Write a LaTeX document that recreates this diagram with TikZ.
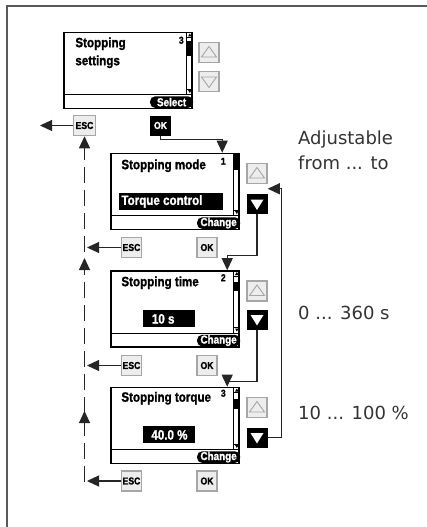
\documentclass[tikz,border=0pt]{standalone}
\usepackage{fontspec}
\setmainfont{Liberation Sans}
\newfontfamily\cond{Liberation Sans}[FakeStretch=0.86, BoldFeatures={FakeBold=1.3}]
\newfontfamily\notefont{DejaVu Sans}
\usetikzlibrary{calc,arrows.meta}
\tikzset{
  conn/.style={draw=black!85, line width=1.1pt},
  arr/.style={-{Triangle[width=11pt,length=12pt]}},
  screen/.style={draw, line width=1.6pt, minimum width=128pt, minimum height=76pt, inner sep=0pt, fill=white},
  lbtn/.style={draw=black!35, fill=black!7, line width=1.5pt, minimum width=20pt, minimum height=20pt, inner sep=0pt, font=\cond\bfseries\fontsize{10}{10}\selectfont},
  dbtn/.style={fill=black, minimum width=21pt, minimum height=20pt, inner sep=0pt, text=white, font=\cond\bfseries\fontsize{10}{10}\selectfont},
  pill/.style={fill=black, rounded corners=5pt, text=white, inner xsep=2pt, inner ysep=0pt, minimum height=11.5pt, minimum width=43pt, font=\cond\bfseries\fontsize{11.5}{11.5}\selectfont},
  bar/.style={fill=black, text=white, font=\cond\bfseries\fontsize{13.5}{13.5}\selectfont, inner ysep=0pt, minimum height=17pt, anchor=north west},
  title/.style={font=\cond\bfseries\fontsize{13.5}{15}\selectfont, inner sep=0pt, anchor=base west},
  idx/.style={font=\cond\bfseries\fontsize{10}{10}\selectfont, inner sep=0pt, anchor=base west},
  note/.style={font=\notefont\fontsize{18}{25}\selectfont, text=black!80, inner sep=0pt, anchor=base west, align=left},
  dashline/.style={draw=black!85, line width=1.1pt, dash pattern=on 16pt off 7pt},
  frame/.style={draw=black!65, line width=2pt},
  upkey/.pic={\node[lbtn] (-b) {};
    \draw[black!35, line width=0.9pt] (-7.5,4.5) -- (7.5,4.5) -- (0,-6) -- cycle;},
  downkeylight/.pic={\node[lbtn] (-b) {};
    \draw[black!35, line width=0.9pt] (-7.5,-4.5) -- (7.5,-4.5) -- (0,6) -- cycle;},
  downkey/.pic={\node[dbtn] (-b) {};
    \fill[white] (-6.5,-4.5) -- (6.5,-4.5) -- (0,6) -- cycle;},
}
% #1 name, #2 centre, #3/#4 thumb offsets, #5 pill text
\newcommand\scrn[5]{%
  \node[screen] (#1) at (#2) {};
  \draw[line width=1.2pt] ($(#1.south west)+(0,-14.5)$) -- ($(#1.south east)+(0,-14.5)$);
  \draw[line width=0.9pt] ($(#1.north east)+(-6,0)$) -- ($(#1.south east)+(-6,-14.5)$);
  \fill ($(#1.north east)+(-4.8,4.8)$) -- ($(#1.north east)+(-1.2,4.8)$) -- ($(#1.north east)+(-3,1.8)$) -- cycle;
  \draw[line width=0.5pt] ($(#1.north east)+(-6,6)$) -- ($(#1.north east)+(0,6)$);
  \fill ($(#1.south east)+(-4.8,-19.3)$) -- ($(#1.south east)+(-1.2,-19.3)$) -- ($(#1.south east)+(-3,-16.3)$) -- cycle;
  \draw[line width=0.5pt] ($(#1.south east)+(-6,-20.5)$) -- ($(#1.south east)+(0,-20.5)$);
  \fill ($(#1.north east)+(-6,#3)$) rectangle ($(#1.north east)+(0,#4)$);
  \node[pill, anchor=east] (#1-p) at ($(#1.south east)+(0.5,-7.2)$) {#5};
}
\begin{document}
\begin{tikzpicture}[x=1pt,y=-1pt]
\useasboundingbox (0,0) rectangle (427,527);
\draw[frame] (7,527) -- (7,6.5) -- (427,6.5);

% screens
\scrn{s1}{128,70.5}{9}{24}{Select}
\scrn{s2}{175,191.5}{0}{17}{Change}
\scrn{s3}{175,309}{12}{21}{Change}
\scrn{s4}{175,425.5}{12}{22}{Change}

\node[title] (t1a) at ($(s1.north west)+(12,15.5)$) {Stopping};
\node[title] (t1b) at ($(s1.north west)+(12,33.5)$) {settings};
\node[idx] (i1) at ($(s1.north west)+(115.5,12)$) {3};

\node[title] (t2) at ($(s2.north west)+(11,16.5)$) {Stopping mode};
\node[idx] (i2) at ($(s2.north west)+(110.5,12)$) {1};
\node[bar, minimum width=104pt, inner xsep=2pt] (b2) at ($(s2.north west)+(9,40)$) {\makebox[100pt][l]{Torque control}};

\node[title] (t3) at ($(s3.north west)+(11,16)$) {Stopping time};
\node[idx] (i3) at ($(s3.north west)+(110.5,11)$) {2};
\node[bar, minimum width=52pt, inner xsep=8.5pt] (b3) at ($(s3.north west)+(33,40)$) {\makebox[35pt][l]{10 s}};

\node[title] (t4) at ($(s4.north west)+(11,15)$) {Stopping torque};
\node[idx] (i4) at ($(s4.north west)+(110.5,10)$) {3};
\node[bar, minimum width=52pt, inner xsep=8pt] (b4) at ($(s4.north west)+(33,39.5)$) {\makebox[36pt][l]{40.0 \%}};

% arrow keys
\pic (u1) at (209,52.5) {upkey};
\pic (d1) at (209,81.5) {downkeylight};
\pic (u2) at (257,173.5) {upkey};
\pic (d2) at (257,204) {downkey};
\pic (u3) at (257,291) {upkey};
\pic (d3) at (257,319.5) {downkey};
\pic (u4) at (257,407.5) {upkey};
\pic (d4) at (257,437.5) {downkey};

% ESC / OK keys
\node[lbtn, minimum width=22pt] (esc1) at (84.5,125.5) {ESC};
\node[dbtn] (ok1) at (160.5,125.5) {OK};
\node[lbtn] (esc2) at (131.5,247.5) {ESC};
\node[lbtn] (ok2) at (207,247.5) {OK};
\node[lbtn] (esc3) at (131.5,365.5) {ESC};
\node[lbtn] (ok3) at (207,365.5) {OK};
\node[lbtn] (esc4) at (131.5,481) {ESC};
\node[lbtn] (ok4) at (207,481) {OK};

% OK / down connectors
\draw[conn,arr] (ok1.south) -- ++(0,4) -| ($(s2.north west)+(112,0)$);
\draw[conn,arr] (d2-b.south) -- ++(0,41.5) -| ($(s3.north west)+(117,0)$);
\draw[conn,arr] (d3-b.south) -- ++(0,52) -| ($(s4.north west)+(117,0)$);
\draw[conn,arr] (d4-b.east) -- ++(14,0) |- ($(u2-b.south east)+(0,4.5)$);

% ESC connectors
\coordinate (e1) at (40,125.5);
\coordinate (e2) at (87,247.5);
\coordinate (e3) at (87,365.5);
\coordinate (e4) at (87,481);
\draw[conn,arr] (esc1.west) -- (e1);
\draw[conn,arr] (esc2.west) -- (e2);
\draw[conn,arr] (esc3.west) -- (e3);
\draw[conn,arr] (esc4.west) -- (e4);

\coordinate (dbot) at (84.5,482);
\draw[dashline,arr] (dbot) -- (esc1.south);
\coordinate (m1) at (84.5,258);
\coordinate (m1b) at (84.5,268);
\coordinate (m2) at (84.5,411);
\coordinate (m2b) at (84.5,421);
\draw[conn,arr] (m1b) -- (m1);
\draw[conn,arr] (m2b) -- (m2);

% notes
\node[note] (n1) at (298,169) {Adjustable\\from ... to};
\node[note] (n2) at (298,319) {0 ... 360 s};
\node[note] (n3) at (298,419) {10 ... 100 \%};
\end{tikzpicture}
\end{document}
